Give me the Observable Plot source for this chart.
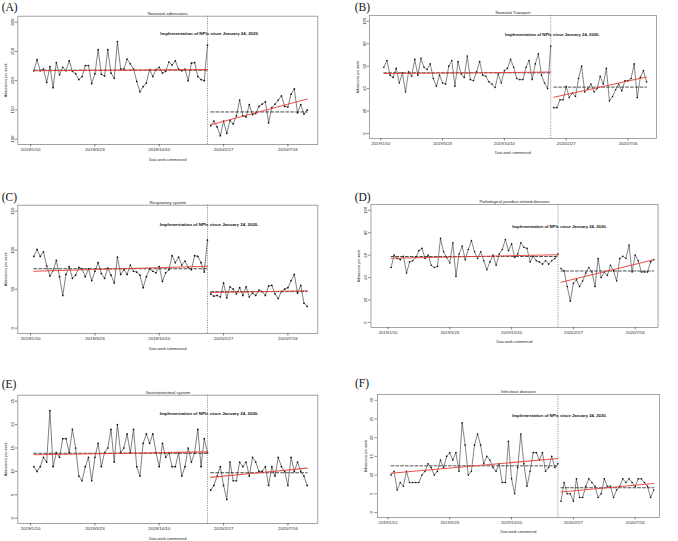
<!DOCTYPE html>
<html><head><meta charset="utf-8">
<script src="https://cdn.jsdelivr.net/npm/d3@7"></script>
<script src="https://cdn.jsdelivr.net/npm/@observablehq/plot@0.6"></script>
<style>
body{margin:0;background:#fff;}
#fig{position:relative;width:678px;height:541px;overflow:hidden;background:#fff;}
.tag{position:absolute;font-family:"Liberation Serif","Times New Roman",serif;font-size:11.5px;font-weight:normal;line-height:11px;color:#111;}
.panel{position:absolute;}
</style></head><body><div id="fig"></div>
<script>
// x axis (week index) ticks and labels
const weekTickIndex = [0, 20, 40, 60, 80];
const weekTickLabels = ["2019/1/10", "2019/5/23", "2019/10/10", "2020/2/27", "2020/7/16"];

// (A) Neonatal admissions
const aPre = [217,236,217,220,197,224,188,231,210,223,217,234,216,212,202,207,226,226,195,212,253,211,208,253,213,204,267,220,220,237,229,220,199,181,190,196,219,207,219,223,213,216,232,227,234,220,217,220,200,230,231,207,202,200,261];
const aPost = [123,131,121,106,131,110,132,126,140,167,140,138,159,142,144,156,160,164,128,154,160,167,174,156,155,177,186,145,159,143,150];
const aTicks = [100,150,200,250,300];
// (B) Neonatal Transport
const bPre = [59,65,52,50,58,45,54,37,55,51,66,52,67,59,57,62,49,42,52,45,44,60,65,42,64,53,50,69,48,47,55,64,52,51,46,44,41,53,45,56,58,66,59,49,48,48,59,65,48,62,71,52,45,40,78];
const bPost = [23,23,30,30,42,32,36,33,49,60,37,40,44,37,40,51,44,58,29,33,39,44,38,47,47,49,62,32,50,56,46];
const bTicks = [0,20,40,60,80,100];
// (C) Respiratory system
const cPre = [92,101,92,98,80,67,74,87,66,42,69,79,64,68,78,76,66,76,61,73,84,70,64,77,68,58,91,69,75,69,81,73,72,68,52,66,76,73,71,79,60,71,75,93,84,91,81,86,78,75,93,92,84,72,113];
const cPost = [44,41,42,40,58,39,53,50,44,52,42,53,40,45,42,49,47,42,54,55,44,38,47,50,52,61,69,45,55,32,28];
const cTicks = [0,50,100,150];
// (D) Pathological jaundice-related diseases
const dPre = [49,60,57,56,59,44,54,55,58,64,66,57,60,51,49,50,75,63,58,53,71,41,61,68,56,65,73,63,57,63,55,47,54,60,51,61,65,74,64,70,58,61,71,67,66,54,59,55,54,52,55,52,55,57,61];
const dPost = [48,46,32,19,35,38,32,37,44,49,45,32,57,40,45,42,51,46,37,57,59,57,69,45,60,55,45,45,45,54,56];
const dTicks = [0,20,40,60,80,100];
// (E) Gastrointestinal system
const ePre = [11,10,11,13,12,23,11,14,13,17,17,14,19,15,9,8,11,13,8,13,16,11,14,15,19,12,20,14,15,18,14,19,11,9,16,18,16,18,14,11,16,13,14,11,11,14,9,11,15,12,14,19,11,17,14];
const ePost = [6,7,9,11,7,4,12,8,8,12,11,12,9,13,12,10,10,11,7,11,9,13,11,10,7,13,10,12,10,9,7];
const eTicks = [0,5,10,15,20,25];
// (F) Infectious diseases
const fPre = [10,11,6,8,7,11,8,8,8,8,10,11,13,12,10,11,14,12,15,16,14,16,11,24,18,10,11,18,21,18,13,15,14,12,11,13,8,8,19,9,5,12,21,13,7,11,16,16,14,16,11,12,15,12,13];
const fPost = [3,8,5,5,3,9,4,4,7,9,8,7,4,5,9,7,7,4,6,7,9,8,9,8,7,9,9,8,7,4,6];
const fTicks = [0,5,10,15,20,25,30];

const tags = ["(A)","(B)","(C)","(D)","(E)","(F)"];
const titles = ["Neonatal admissions","Neonatal Transport","Respiratory system","Pathological jaundice-related diseases","Gastrointestinal system","Infectious diseases"];
const npiTexts = ["Implementation of NPIs since January 24, 2020","Implementation of NPIs since January 24, 2020.","Implementation of NPIs since January 24, 2020.","Implementation of NPIs since January 24, 2020.","Implementation of NPIs since January 24, 2020.","Implementation of NPIs since January 24, 2020."];
const yLabel = "Admissions per week";
const xLabel = "Data week commenced";

const FONT = "'Liberation Sans', Arial, Helvetica, sans-serif";
const W = 340, H = 170, FRAME_H = 128.3;

const panels = [
  {pre:aPre, post:aPost, yTicks:aTicks, yDomain:[90.9,310.3], textY:280, left:0, top:0, ml:17.3, mr:22.7, xDomain:[-3.98,89.3], tag:[1.7,2]},
  {pre:bPre, post:bPost, yTicks:bTicks, yDomain:[-4.5,105.1], textY:87.7, left:352, top:0, ml:17.7, mr:23, xDomain:[-3.66,89.2], tag:[354.7,1.5]},
  {pre:cPre, post:cPost, yTicks:cTicks, yDomain:[-6.8,157.7], textY:132.5, left:0, top:189, ml:17.3, mr:22.7, xDomain:[-3.98,89.3], tag:[1.7,191.5]},
  {pre:dPre, post:dPost, yTicks:dTicks, yDomain:[-4.5,105.1], textY:85, left:352, top:189, ml:19.3, mr:21.3, xDomain:[-5.5,87.4], tag:[354.7,191.5]},
  {pre:ePre, post:ePost, yTicks:eTicks, yDomain:[-1.13,26.28], textY:22.4, left:0, top:378.6, ml:17.3, mr:22.7, xDomain:[-3.98,89.3], tag:[1.7,378.5]},
  {pre:fPre, post:fPost, yTicks:fTicks, yDomain:[-1.36,31.54], textY:26, left:352, top:378.6, ml:26, mr:19.7, xDomain:[-3.4,87.9], tag:[355,378]}
];

const fig = document.getElementById("fig");

panels.forEach((cfg, k) => {
  const nPre = cfg.pre.length;
  const pre = cfg.pre.map((v, i) => ({x: i + 1, y: v, seg: "pre"}));
  const post = cfg.post.map((v, i) => ({x: nPre + i + 1, y: v, seg: "post"}));
  const all = pre.concat(post);
  const mPre = d3.mean(cfg.pre), mPost = d3.mean(cfg.post);
  const meanLines = [
    {x: 1, y: mPre, seg: "pre"}, {x: nPre, y: mPre, seg: "pre"},
    {x: nPre + 1, y: mPost, seg: "post"}, {x: all.length, y: mPost, seg: "post"}
  ];
  const chart = Plot.plot({
    width: W, height: H,
    marginLeft: cfg.ml, marginRight: cfg.mr, marginTop: 15.7, marginBottom: H - 15.7 - FRAME_H,
    style: {fontFamily: FONT, background: "transparent", overflow: "visible"},
    x: {domain: cfg.xDomain},
    y: {domain: cfg.yDomain},
    marks: [
      Plot.frame({stroke: "#8a8a8a", strokeWidth: 0.8}),
      Plot.axisY({ticks: cfg.yTicks, tickSize: 2.5, tickFormat: () => "", label: null, stroke: "#333", strokeWidth: 0.6}),
      Plot.text(cfg.yTicks, {y: d => d, frameAnchor: "left", dx: -5.5, rotate: -90, text: d => String(d), fontSize: 4.3, fill: "#222", textAnchor: "middle", lineAnchor: "middle"}),
      Plot.axisX({ticks: weekTickIndex, tickSize: 2.5, tickPadding: 1.2, fontSize: 4.4, tickFormat: d => weekTickLabels[weekTickIndex.indexOf(d)], label: null, stroke: "#333", strokeWidth: 0.6, fill: "#222"}),
      Plot.text([yLabel], {frameAnchor: "left", dx: -12.3, rotate: -90, fontSize: 3.6, fill: "#222", textAnchor: "middle", lineAnchor: "middle"}),
      Plot.text([xLabel], {frameAnchor: "bottom", dy: 15, fontSize: 3.6, fill: "#222", textAnchor: "middle", lineAnchor: "middle"}),
      Plot.text([titles[k]], {frameAnchor: "top", dy: -3, fontSize: 4.3, fill: "#222", textAnchor: "middle", lineAnchor: "middle"}),
      Plot.ruleX([nPre], {stroke: "#666", strokeWidth: 0.7, strokeDasharray: "1.2,1.2"}),
      Plot.line(all, {x: "x", y: "y", z: "seg", stroke: "#3a3a3a", strokeWidth: 0.65}),
      Plot.dot(all, {x: "x", y: "y", r: 0.85, fill: "#111", stroke: null}),
      Plot.line(meanLines, {x: "x", y: "y", z: "seg", stroke: "#111", strokeWidth: 0.75, strokeDasharray: "3,2"}),
      Plot.linearRegressionY(all, {x: "x", y: "y", z: "seg", stroke: "#e8403a", strokeOpacity: 0.9, strokeWidth: 1.05, ci: 0}),
      Plot.text([npiTexts[k]], {x: nPre + 0.5, y: cfg.textY, fontSize: 4.4, fontWeight: "bold", fill: "#111", textAnchor: "middle", lineAnchor: "middle"})
    ]
  });
  const wrap = document.createElement("div");
  wrap.className = "panel";
  wrap.style.left = cfg.left + "px";
  wrap.style.top = cfg.top + "px";
  wrap.appendChild(chart);
  fig.appendChild(wrap);
  const t = document.createElement("div");
  t.className = "tag";
  t.textContent = tags[k];
  t.style.left = cfg.tag[0] + "px";
  t.style.top = cfg.tag[1] + "px";
  fig.appendChild(t);
});
</script>
</body></html>
